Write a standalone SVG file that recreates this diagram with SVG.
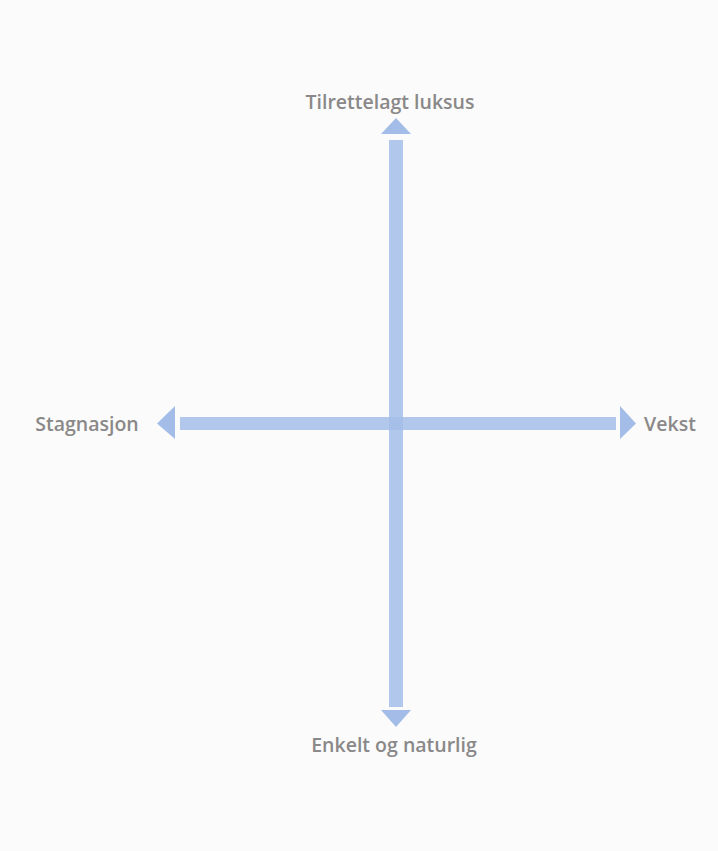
<svg xmlns="http://www.w3.org/2000/svg" width="718" height="851" viewBox="0 0 718 851">
<style>
.bar{fill:#a3bde8;opacity:0.85}
.head{fill:#a3bde8}
.lbl{font-family:"Open Sans","Liberation Sans",sans-serif;font-weight:600;font-size:19.5px;fill:#8a8888}
</style>
<rect width="718" height="851" fill="#fbfbfb"/>
<g id="connectors">
<rect class="bar" x="389" y="140" width="14" height="567"/>
<rect class="bar" x="180" y="417" width="436" height="13"/>
<polygon class="head" points="396,118 411,134 381,134"/>
<polygon class="head" points="396,727 411,710 381,710"/>
<polygon class="head" points="157,423.5 175,406 175,439"/>
<polygon class="head" points="636,423.5 620,406 620,439"/>
</g>
<g id="top"><text class="lbl" x="390" y="109" text-anchor="middle">Tilrettelagt luksus</text></g>
<g id="bottom"><text class="lbl" x="394" y="752" text-anchor="middle">Enkelt og naturlig</text></g>
<g id="left"><text class="lbl" x="87" y="431" text-anchor="middle">Stagnasjon</text></g>
<g id="right"><text class="lbl" x="670" y="431" text-anchor="middle">Vekst</text></g>
</svg>
